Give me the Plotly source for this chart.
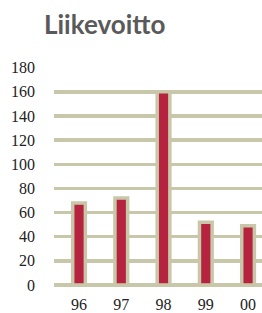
import plotly.graph_objects as go

categories = ["96", "97", "98", "99", "00"]
values = [68, 72, 160, 52, 49]
y_ticks = [0, 20, 40, 60, 80, 100, 120, 140, 160, 180]

beige = "#c9c7a9"
red = "#b5233f"
serif = "Liberation Serif, Times New Roman, serif"

W, H = 262, 313

fig = go.Figure(go.Bar(
    x=list(range(len(categories))),
    y=values,
    width=0.3,
    marker=dict(color=red, line=dict(color=beige, width=3.5)),
    hoverinfo="skip",
))

fig.update_layout(
    width=W, height=H,
    margin=dict(l=54, r=0, t=67, b=28, autoexpand=False),
    paper_bgcolor="white", plot_bgcolor="white",
    showlegend=False,
    title=dict(text="<b>Liikevoitto</b>", x=44 / W, xanchor="left", xref="container",
               y=1 - 25 / H, yanchor="middle", yref="container",
               font=dict(family="Lato", size=26, color="#5a5a5a")),
    xaxis=dict(
        range=[-0.592, 4.33],
        tickvals=list(range(len(categories))), ticktext=categories,
        showgrid=False, zeroline=False, showline=False,
        ticks="", ticklabelstandoff=8, automargin=False,
        tickfont=dict(family=serif, size=16, color="#222"),
        fixedrange=True,
    ),
    yaxis=dict(
        range=[0, 180.6], tickvals=y_ticks,
        showgrid=True, gridcolor=beige, gridwidth=3.5,
        zeroline=True, zerolinecolor=beige, zerolinewidth=3.5,
        showline=False, ticks="", ticklabelstandoff=18, automargin=False,
        tickfont=dict(family=serif, size=16, color="#222"),
        fixedrange=True,
    ),
)

fig.write_html(
    "out.html",
    config={"displayModeBar": False, "staticPlot": True},
    post_script="document.body.style.margin='0';document.body.style.overflow='hidden';",
)
